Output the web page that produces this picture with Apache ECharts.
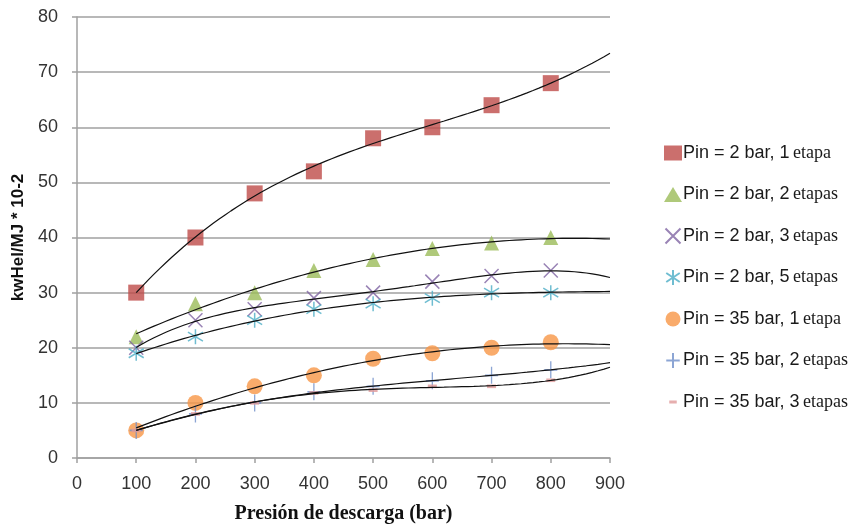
<!DOCTYPE html>
<html><head><meta charset="utf-8">
<script src="https://cdn.jsdelivr.net/npm/echarts@6/dist/echarts.min.js"></script>
<style>html,body{margin:0;padding:0;background:#fff}#c{width:855px;height:529px}</style>
</head><body><div id="c"></div>
<script>
// ---- data ----
const pressures = [100, 200, 300, 400, 500, 600, 700, 800];
const s2bar1 = [30, 40, 48, 52, 58, 60, 64, 68];
const s2bar2 = [22, 28, 30, 34, 36, 38, 39, 40];
const s2bar3 = [20, 25, 27, 29, 30, 32, 33, 34];
const s2bar5 = [19, 22, 25, 27, 28, 29, 30, 30];
const s35bar1 = [5, 10, 13, 15, 18, 19, 20, 21];
const s35bar2 = [5, 8, 10, 12, 13, 14, 15, 16];
const s35bar3 = [5, 8, 10, 11.8, 12.3, 13, 13, 14.1];
const seriesNames = [
  'Pin = 2 bar, 1 etapa', 'Pin = 2 bar, 2 etapas', 'Pin = 2 bar, 3 etapas', 'Pin = 2 bar, 5 etapas',
  'Pin = 35 bar, 1 etapa', 'Pin = 35 bar, 2 etapas', 'Pin = 35 bar, 3 etapas'
];
const xTicks = [0, 100, 200, 300, 400, 500, 600, 700, 800, 900];
const yTicks = [0, 10, 20, 30, 40, 50, 60, 70, 80];

const allData = [s2bar1, s2bar2, s2bar3, s2bar5, s35bar1, s35bar2, s35bar3];
const trendOrder = [3, 2, 4, 3, 2, 3, 4];
const colors = ['#be4b48', '#9bbb59', '#8064a2', '#4bacc6', '#f79646', '#6f8fc9', '#e09a9a'];
const symbols = [
  'rect', 'triangle',
  'path://M0,0 L20,20 M20,0 L0,20',
  'path://M10,0 L10,20 M1,4 L19,16 M19,4 L1,16',
  'circle',
  'path://M10,0 L10,20 M1,10 L19,10',
  'path://M0,0 M20,20 M5,8 L15,8 L15,12 L5,12 Z'
];
const symSizes = [16, 15, 14, 15, 16, [13, 17], 18];
const stroked = [false, false, true, true, false, true, false];

// least squares polynomial trendline (like Excel's), derived from the data
function polyfit(xs, ys, deg) {
  const n = deg + 1;
  const A = [];
  for (let i = 0; i < n; i++) { A.push(new Array(n + 1).fill(0)); }
  xs.forEach((x0, k) => {
    const x = x0 / 100;
    for (let i = 0; i < n; i++) {
      for (let j = 0; j < n; j++) A[i][j] += Math.pow(x, i + j);
      A[i][n] += ys[k] * Math.pow(x, i);
    }
  });
  for (let i = 0; i < n; i++) {
    let p = i;
    for (let r = i + 1; r < n; r++) if (Math.abs(A[r][i]) > Math.abs(A[p][i])) p = r;
    [A[i], A[p]] = [A[p], A[i]];
    for (let r = 0; r < n; r++) {
      if (r === i) continue;
      const f = A[r][i] / A[i][i];
      for (let c = i; c <= n; c++) A[r][c] -= f * A[i][c];
    }
  }
  const coef = A.map((row, i) => row[n] / row[i]);
  return x0 => { const x = x0 / 100; return coef.reduce((s, c, i) => s + c * Math.pow(x, i), 0); };
}

const series = [];
allData.forEach((ys, i) => {
  const f = polyfit(pressures, ys, trendOrder[i]);
  const pts = [];
  for (let x = 100; x <= 900; x += 10) pts.push([x, f(x)]);
  series.push({
    type: 'line', data: pts, showSymbol: false, silent: true, smooth: false,
    lineStyle: { color: '#111', width: 1.2 }, z: 3, legendHoverLink: false
  });
});
allData.forEach((ys, i) => {
  series.push({
    name: seriesNames[i], type: 'scatter',
    data: pressures.map((x, k) => [x, ys[k]]),
    symbol: symbols[i], symbolSize: symSizes[i], z: 2,
    itemStyle: stroked[i]
      ? { color: 'transparent', borderColor: colors[i], borderWidth: 1.5 }
      : { color: colors[i] }
  });
});

function legendFmt(name) {
  const m = name.match(/^(.*\d) (etapas?)$/);
  return '{a|' + m[1] + '} {b|' + m[2] + '}';
}

const chart = echarts.init(document.getElementById('c'), null, { renderer: 'canvas' });
chart.setOption({
  animation: false,
  backgroundColor: '#fff',
  grid: { left: 77, right: 245, top: 17, bottom: 70 },
  legend: {
    data: seriesNames, orient: 'vertical', left: 659, top: 139, itemGap: 23.5,
    itemWidth: 18, itemHeight: 15,
    formatter: legendFmt,
    textStyle: {
      color: '#1a1a1a', padding: [0, 0, 0, -4],
      rich: {
        a: { fontFamily: 'Liberation Sans, Arial, sans-serif', fontSize: 18, color: '#1a1a1a' },
        b: { fontFamily: 'Liberation Serif, Times New Roman, serif', fontSize: 18, color: '#1a1a1a' }
      }
    }
  },
  xAxis: {
    type: 'value', min: 0, max: 900, interval: 100,
    name: 'Presión de descarga (bar)', nameLocation: 'middle', nameGap: 46,
    nameTextStyle: { fontFamily: 'Liberation Serif, serif', fontWeight: 'bold', fontSize: 20, color: '#111' },
    axisLine: { show: true, lineStyle: { color: '#a0a0a0', width: 1.5 } },
    axisTick: { show: true, length: 5, lineStyle: { color: '#a0a0a0', width: 1.5 } },
    axisLabel: { fontFamily: 'Liberation Sans, sans-serif', fontSize: 18, color: '#333', margin: 17,
      formatter: v => xTicks.includes(v) ? String(v) : '' },
    splitLine: { show: false }
  },
  yAxis: {
    type: 'value', min: 0, max: 80, interval: 10,
    name: 'kwHel/MJ * 10-2', nameLocation: 'middle', nameGap: 45, nameRotate: 90,
    nameTextStyle: { fontFamily: 'Liberation Sans, sans-serif', fontWeight: 'bold', fontSize: 17, color: '#111' },
    axisLine: { show: true, lineStyle: { color: '#a0a0a0', width: 1.5 } },
    axisTick: { show: true, length: 5, lineStyle: { color: '#a0a0a0', width: 1.5 } },
    axisLabel: { fontFamily: 'Liberation Sans, sans-serif', fontSize: 18, color: '#333', margin: 19,
      formatter: v => yTicks.includes(v) ? String(v) : '' },
    splitLine: { show: true, lineStyle: { color: '#a0a0a0', width: 1.5 } }
  },
  series: series
});
</script></body></html>
